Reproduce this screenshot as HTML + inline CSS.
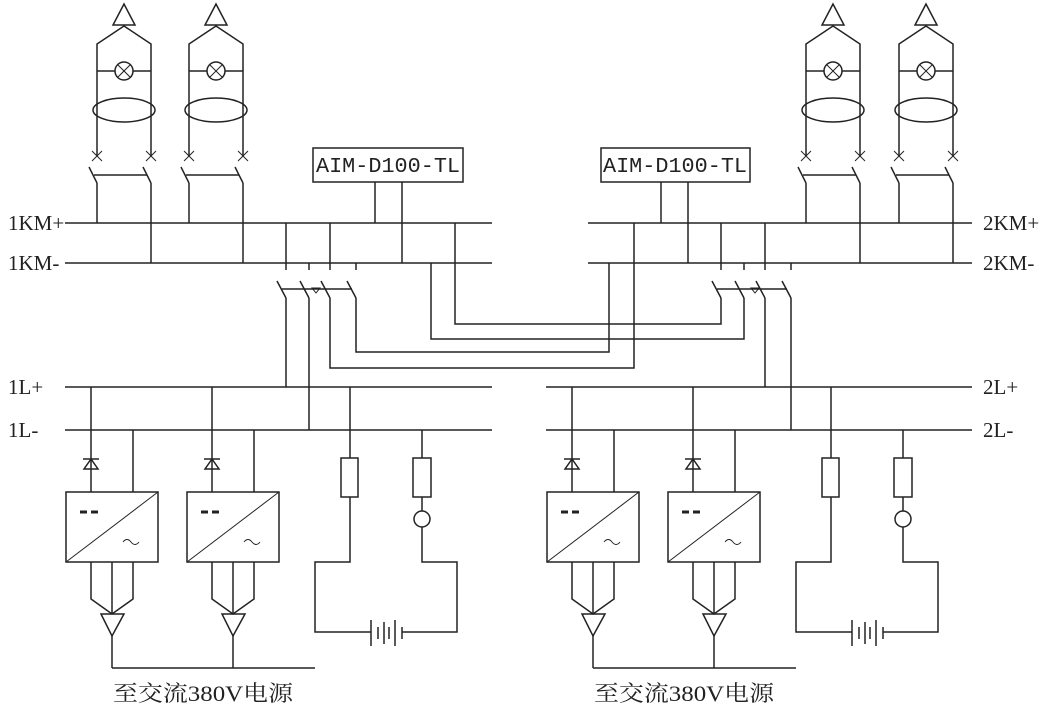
<!DOCTYPE html>
<html><head><meta charset="utf-8"><style>
html,body{margin:0;padding:0;background:#fff;}
svg{display:block}
text{font-family:"Liberation Serif","Noto Serif CJK SC",serif;fill:#222}
</style></head><body>
<svg width="1052" height="708" viewBox="0 0 1052 708" xmlns="http://www.w3.org/2000/svg">
<defs>
<g id="top" fill="none" stroke="#222" stroke-width="1.5">
  <polygon points="124,4 113,25 135,25"/>
  <polyline points="97,156 97,44 124,26 151,44 151,156"/>
  <line x1="97" y1="183" x2="97" y2="223"/>
  <line x1="151" y1="183" x2="151" y2="263"/>
  <line x1="97" y1="71" x2="115" y2="71"/><line x1="133" y1="71" x2="151" y2="71"/>
  <circle cx="124" cy="71" r="9"/>
  <line x1="118" y1="65" x2="130" y2="77" stroke-width="1"/><line x1="130" y1="65" x2="118" y2="77" stroke-width="1"/>
  <ellipse cx="124" cy="110" rx="31" ry="12"/>
  <line x1="92" y1="151" x2="102" y2="161" stroke-width="1"/><line x1="102" y1="151" x2="92" y2="161" stroke-width="1"/>
  <line x1="146" y1="151" x2="156" y2="161" stroke-width="1"/><line x1="156" y1="151" x2="146" y2="161" stroke-width="1"/>
  <line x1="89" y1="167" x2="97" y2="183"/><line x1="143" y1="167" x2="151" y2="183"/>
  <line x1="94" y1="175" x2="147" y2="175"/>
</g>
<g id="conv" fill="none" stroke="#222" stroke-width="1.5">
  <line x1="91" y1="387" x2="91" y2="492"/>
  <line x1="133" y1="430" x2="133" y2="492"/>
  <line x1="83" y1="459" x2="99" y2="459"/>
  <polygon points="91,459 84,469 98,469"/>
  <rect x="66" y="492" width="92" height="70"/>
  <line x1="66" y1="562" x2="158" y2="492" stroke-width="1"/>
  <line x1="80" y1="512" x2="87" y2="512" stroke-width="3"/><line x1="91" y1="512" x2="98" y2="512" stroke-width="3"/>
  <path d="M123,542 q4,-5 8,0 t8,0" stroke-width="1"/>
  <polyline points="91,562 91,599 112,614 133,599 133,562"/>
  <line x1="112" y1="562" x2="112" y2="614"/>
  <polygon points="101,614 124,614 112,636"/>
  <line x1="112" y1="636" x2="112" y2="668"/>
</g>
<g id="bot" fill="none" stroke="#222" stroke-width="1.5">
  <use href="#conv"/>
  <use href="#conv" transform="translate(121,0)"/>
  <line x1="112" y1="668" x2="315" y2="668"/>
  <polyline points="350,387 350,562 315,562 315,632 371,632"/>
  <rect x="341" y="458" width="17" height="39" fill="#fff"/>
  <polyline points="422,430 422,562 457,562 457,632 402,632"/>
  <rect x="413" y="458" width="18" height="39" fill="#fff"/>
  <circle cx="422" cy="519" r="8" fill="#fff"/>
  <line x1="371" y1="620" x2="371" y2="646"/>
  <line x1="378" y1="627" x2="378" y2="639"/>
  <line x1="384" y1="622" x2="384" y2="644"/>
  <line x1="389" y1="627" x2="389" y2="639"/>
  <line x1="395" y1="620" x2="395" y2="646"/>
  <line x1="402" y1="627" x2="402" y2="639"/>
</g>
<g id="sw" fill="none" stroke="#222" stroke-width="1.5">
  <line x1="-9" y1="281" x2="0" y2="298"/>
</g>
</defs>

<use href="#top"/>
<use href="#top" transform="translate(92,0)"/>
<use href="#top" transform="translate(709,0)"/>
<use href="#top" transform="translate(802,0)"/>
<use href="#bot"/>
<use href="#bot" transform="translate(481,0)"/>

<g fill="none" stroke="#222" stroke-width="1.5">
  <line x1="65" y1="223" x2="492" y2="223"/><line x1="65" y1="263" x2="492" y2="263"/>
  <line x1="588" y1="223" x2="972" y2="223"/><line x1="588" y1="263" x2="972" y2="263"/>
  <line x1="65" y1="387" x2="492" y2="387"/><line x1="65" y1="430" x2="492" y2="430"/>
  <line x1="546" y1="387" x2="972" y2="387"/><line x1="546" y1="430" x2="972" y2="430"/>
  <rect x="313" y="148" width="150" height="34" fill="#fff"/>
  <rect x="601" y="148" width="149" height="34" fill="#fff"/>
  <line x1="375" y1="182" x2="375" y2="223"/><line x1="402" y1="182" x2="402" y2="263"/>
  <line x1="661" y1="182" x2="661" y2="223"/><line x1="688" y1="182" x2="688" y2="263"/>
  <line x1="286" y1="223" x2="286" y2="270"/><line x1="309" y1="263" x2="309" y2="270"/>
  <line x1="330" y1="223" x2="330" y2="270"/><line x1="356" y1="263" x2="356" y2="270"/>
  <use href="#sw" transform="translate(286,0)"/><use href="#sw" transform="translate(309,0)"/>
  <use href="#sw" transform="translate(330,0)"/><use href="#sw" transform="translate(356,0)"/>
  <line x1="282" y1="289" x2="352" y2="289"/>
  <polygon points="312,288 320,288 316,293" stroke-width="1"/>
  <line x1="286" y1="298" x2="286" y2="387"/>
  <line x1="309" y1="298" x2="309" y2="430"/>
  <polyline points="330,298 330,368 634,368 634,223"/>
  <polyline points="356,298 356,352 609,352 609,263"/>
  <polyline points="431,263 431,339 744,339 744,298"/>
  <polyline points="455,223 455,324 721,324 721,298"/>
  <line x1="721" y1="223" x2="721" y2="270"/><line x1="744" y1="263" x2="744" y2="270"/>
  <line x1="765" y1="223" x2="765" y2="270"/><line x1="791" y1="263" x2="791" y2="270"/>
  <use href="#sw" transform="translate(721,0)"/><use href="#sw" transform="translate(744,0)"/>
  <use href="#sw" transform="translate(765,0)"/><use href="#sw" transform="translate(791,0)"/>
  <line x1="717" y1="289" x2="787" y2="289"/>
  <polygon points="751,288 759,288 755,293" stroke-width="1"/>
  <line x1="765" y1="298" x2="765" y2="387"/>
  <line x1="791" y1="298" x2="791" y2="430"/>
</g>

<g font-size="21">
  <text x="8" y="230">1KM+</text>
  <text x="8" y="270">1KM-</text>
  <text x="8" y="394">1L+</text>
  <text x="8" y="437">1L-</text>
  <text x="983" y="230">2KM+</text>
  <text x="983" y="270">2KM-</text>
  <text x="983" y="394">2L+</text>
  <text x="983" y="437">2L-</text>
</g>
<g font-size="21">
  <text x="388" y="172" text-anchor="middle" textLength="144" lengthAdjust="spacingAndGlyphs" style="font-family:'Liberation Mono',monospace">AIM-D100-TL</text>
  <text x="675" y="172" text-anchor="middle" textLength="144" lengthAdjust="spacingAndGlyphs" style="font-family:'Liberation Mono',monospace">AIM-D100-TL</text>
</g>
<g font-size="22">
  <text x="113" y="701" textLength="180" lengthAdjust="spacingAndGlyphs">至交流380V电源</text>
  <text x="594" y="701" textLength="180" lengthAdjust="spacingAndGlyphs">至交流380V电源</text>
</g>
</svg>
</body></html>
